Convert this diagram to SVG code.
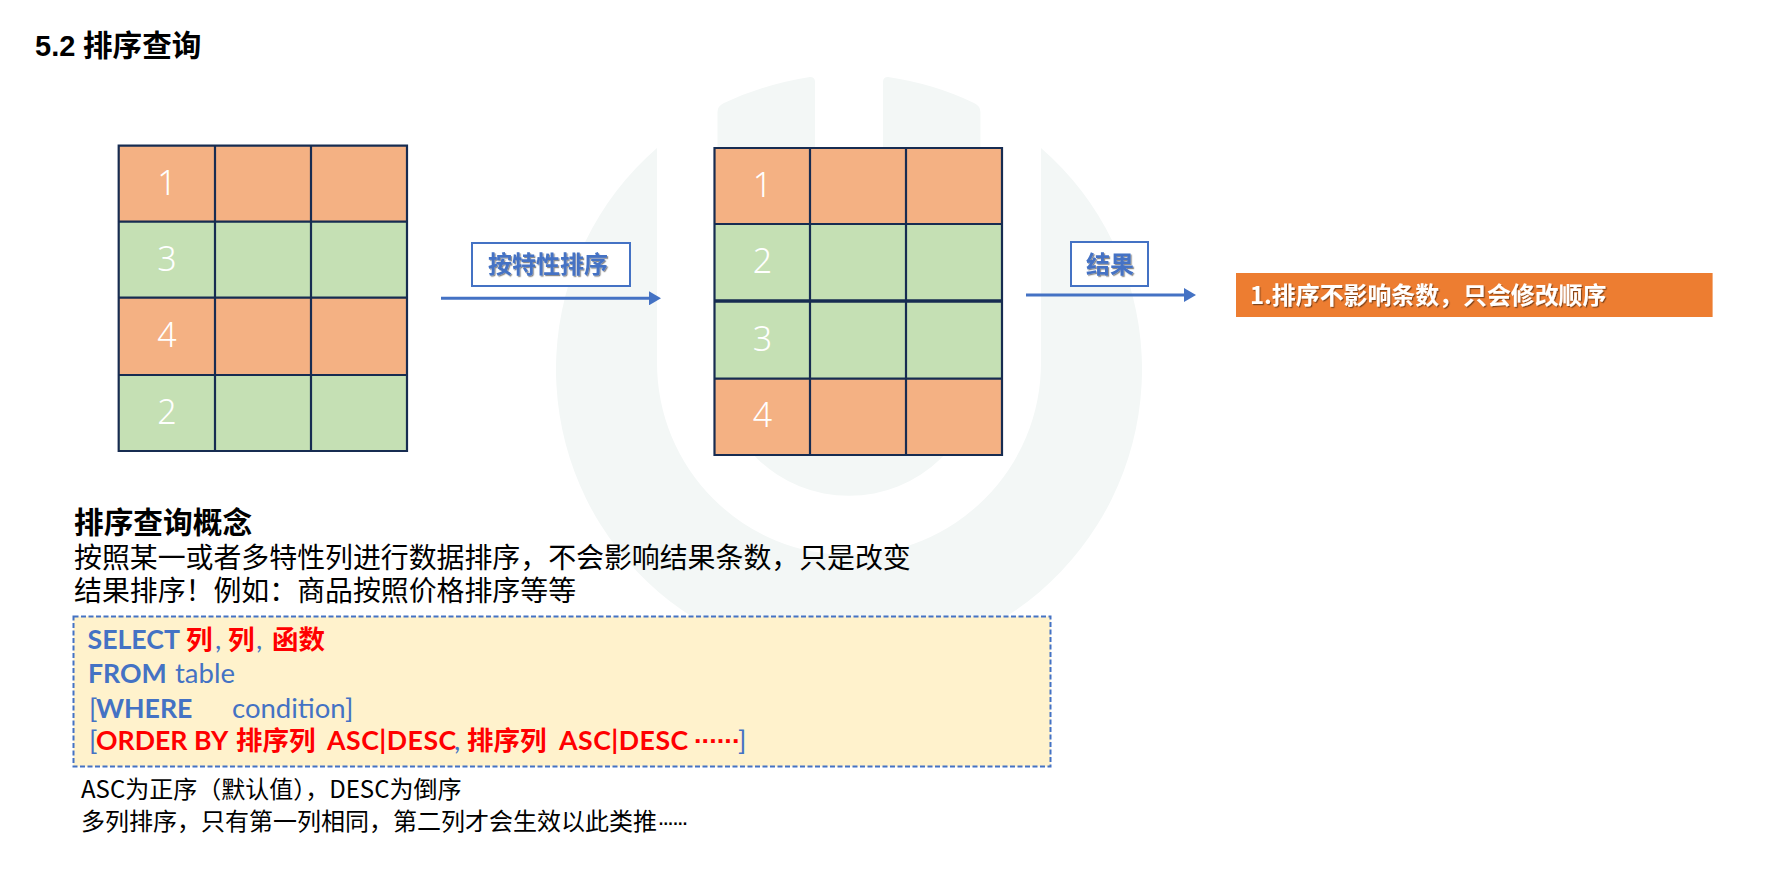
<svg xmlns="http://www.w3.org/2000/svg" width="1771" height="885" viewBox="0 0 1771 885">
<style>
text{font-family:"Liberation Sans","Noto Sans CJK SC",sans-serif;}
.cn{font-family:"Noto Sans CJK SC","Noto Sans",sans-serif;}
.d{font-family:"Noto Sans","Liberation Sans",sans-serif;font-size:34px;fill:#fff;text-anchor:middle;font-weight:300;}
.o{fill:#f4b183;}.g{fill:#c5e0b4;}
.grid{fill:none;stroke:#172c51;stroke-width:2.2;}
.lb{fill:#fff;stroke:#4472c4;stroke-width:2;}
.lt{font-size:24px;font-weight:700;fill:#4472c4;filter:url(#sh);}
.code{font-size:27.5px;fill:#4472c4;font-family:"Lato","Noto Sans CJK SC",sans-serif;}
.r{fill:#ff0000;font-weight:700;font-size:26.7px;}
.rc{fill:#ff0000;font-weight:700;font-size:26.5px;font-family:"Noto Sans CJK SC",sans-serif;}
.b{font-weight:700;font-size:26.7px;}
.asc{letter-spacing:.5px;}
.dots{font-family:"Liberation Sans",sans-serif;}
.wm{fill:#f3f7f6;}
.conn{stroke:#4472c4;stroke-width:3;fill:none;marker-end:url(#ah);}
</style>
<defs>
<marker id="ah" markerUnits="userSpaceOnUse" markerWidth="12" markerHeight="14" refX="0" refY="7" orient="auto"><path d="M0 0L12 7L0 14Z" fill="#4472c4"/></marker>
<filter id="sh" x="-10%" y="-20%" width="125%" height="150%"><feDropShadow dx="1.2" dy="1.2" stdDeviation="0.7" flood-color="#000" flood-opacity="0.45"/></filter>
</defs>
<rect width="1771" height="885" fill="#fff"/>
<g id="watermark">
<path class="wm" d="M657 148V363A192 192 0 0 0 1041 363V148A293 293 0 1 1 657 148Z"/>
<path class="wm" d="M717.5 112Q717.5 106 724 103Q765 84 810 77Q815 77 815 82V200H883V82Q883 77 888 77Q935 84 974 103Q980.4 106 980.4 112V368A131.5 131.5 0 0 1 717.5 368Z"/>
</g>
<g id="title"><text x="35" y="56" font-size="29" font-weight="700" fill="#000">5.2</text><text class="cn" x="83" y="56" font-size="29.6" font-weight="700" fill="#000">排序查询</text></g>
<g id="table-before">
<rect class="o" x="118.7" y="145.7" width="288.3" height="76"/><rect class="g" x="118.7" y="221.7" width="288.3" height="76"/><rect class="o" x="118.7" y="297.7" width="288.3" height="77.3"/><rect class="g" x="118.7" y="375" width="288.3" height="76"/>
<path class="grid" d="M118.7 145.7H407V451H118.7ZM215 145.7V451M311 145.7V451M118.7 221.7H407M118.7 297.7H407M118.7 375H407"/>
<text class="d" x="167" y="195">1</text><text class="d" x="167" y="271">3</text><text class="d" x="167" y="347">4</text><text class="d" x="167" y="424">2</text>
</g>
<g id="table-after">
<rect class="o" x="714.5" y="148" width="287.5" height="76"/><rect class="g" x="714.5" y="224" width="287.5" height="154.6"/><rect class="o" x="714.5" y="378.6" width="287.5" height="76.4"/>
<path class="grid" d="M714.5 148H1002V455H714.5ZM810 148V455M906 148V455M714.5 224H1002M714.5 378.6H1002"/>
<path d="M714.5 301H1002" fill="none" stroke="#172c51" stroke-width="3.5"/>
<text class="d" x="762.5" y="197">1</text><text class="d" x="762.5" y="273">2</text><text class="d" x="762.5" y="351">3</text><text class="d" x="762.5" y="427">4</text>
</g>
<g id="label-sort"><rect class="lb" x="472" y="243" width="158" height="43"/><text class="cn lt" x="488" y="273">按特性排序</text></g>
<g id="label-result"><rect class="lb" x="1071" y="242" width="77" height="44"/><text class="cn lt" x="1086" y="273">结果</text></g>
<g id="connectors">
<path class="conn" d="M441 298.3H649"/>
<path class="conn" d="M1026 295H1184"/>
</g>
<g id="note-orange"><rect x="1236" y="273" width="476.6" height="44" fill="#ed7d31"/><text class="cn" x="1250" y="304" font-size="23.9" font-weight="700" fill="#fff" filter="url(#sh)">1.排序不影响条数，只会修改顺序</text></g>
<g id="concept">
<text class="cn" x="74" y="533" font-size="29.7" font-weight="700" fill="#000">排序查询概念</text>
<text class="cn" x="74" y="568" font-size="27.9" fill="#000">按照某一或者多特性列进行数据排序，不会影响结果条数，只是改变</text>
<text class="cn" x="74" y="601" font-size="27.9" fill="#000">结果排序！例如：商品按照价格排序等等</text>
</g>
<g id="code-box">
<rect x="73.5" y="616.5" width="977" height="150" fill="#fff2cc" stroke="#4472c4" stroke-width="2" stroke-dasharray="5 2.5"/>
<text class="code" y="649"><tspan class="b" x="87.5">SELECT</tspan><tspan class="rc" x="186">列</tspan><tspan x="215">,</tspan><tspan class="rc" x="228">列</tspan><tspan x="256">,</tspan><tspan class="rc" x="272">函数</tspan></text>
<text class="code" y="683"><tspan class="b" x="88">FROM</tspan><tspan x="175">table</tspan></text>
<text class="code" y="718"><tspan x="89">[</tspan><tspan class="b" x="96">WHERE</tspan><tspan x="232">condition]</tspan></text>
<text class="code" y="750"><tspan x="89">[</tspan><tspan class="r" x="96">ORDER BY</tspan><tspan class="rc" x="236">排序列</tspan><tspan class="r asc" x="327">ASC|DESC</tspan><tspan x="454">,</tspan><tspan class="rc" x="467">排序列</tspan><tspan class="r asc" x="559">ASC|DESC</tspan><tspan class="r dots" x="694" letter-spacing="-1.3">······</tspan><tspan x="738">]</tspan></text>
</g>
<g id="notes">
<text class="cn" x="81" y="798" font-size="24" fill="#000">ASC为正序（默认值），DESC为倒序</text>
<text class="cn" x="81" y="830" font-size="24" fill="#000">多列排序，只有第一列相同，第二列才会生效以此类推<tspan class="dots" letter-spacing="-3.2">······</tspan></text>
</g>
</svg>
